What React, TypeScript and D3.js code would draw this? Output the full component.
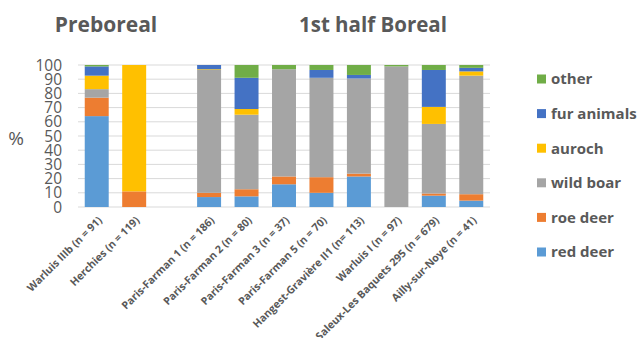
import React from "react";
import * as d3 from "d3";

const sites = [
  "Warluis IIIb (n = 91)",
  "Herchies (n = 119)",
  "",
  "Paris-Farman 1 (n = 186)",
  "Paris-Farman 2 (n = 80)",
  "Paris-Farman 3 (n = 37)",
  "Paris-Farman 5 (n = 70)",
  "Hangest-Gravière II1 (n= 113)",
  "Warluis I (n = 97)",
  "Saleux-Les Baquets 295 (n = 679)",
  "Ailly-sur-Noye (n = 41)",
];

const species = ["red deer", "roe deer", "wild boar", "auroch", "fur animals", "other"];
const colors = ["#5B9BD5", "#ED7D31", "#A5A5A5", "#FFC000", "#4472C4", "#70AD47"];

const redDeer = [64, 0, 0, 7, 7.5, 16, 10, 21.5, 0, 8, 4.5];
const roeDeer = [13, 11, 0, 3, 5, 5.5, 11, 2, 0, 1.5, 4.5];
const wildBoar = [6, 0, 0, 86.5, 52.5, 75.5, 70, 67, 99, 49, 83.5];
const auroch = [9.5, 89, 0, 0.5, 4, 0, 0, 0, 0, 12, 3];
const furAnimals = [6.5, 0, 0, 3, 22, 0, 5.5, 2.5, 0, 26, 2.5];
const other = [1, 0, 0, 0, 9, 3, 3.5, 7, 1, 3.5, 2];

const yTicks = [0, 10, 20, 30, 40, 50, 60, 70, 80, 90, 100];

const W = 638;
const H = 338;
const left = 78;
const right = 490;
const top = 65;
const bottom = 207;
const textColor = "#595959";
const font = "'Open Sans', 'Liberation Sans', sans-serif";

export default function App() {
  const rows = sites.map((s, i) => ({
    site: s || "_gap",
    "red deer": redDeer[i],
    "roe deer": roeDeer[i],
    "wild boar": wildBoar[i],
    auroch: auroch[i],
    "fur animals": furAnimals[i],
    other: other[i],
  }));
  const keys = sites.map((s) => s || "_gap");

  const x = d3.scaleBand().domain(keys).range([left, right]).paddingInner(0.36).paddingOuter(0.18);
  const y = d3.scaleLinear().domain([0, 100]).range([bottom, top]);
  const stacked = d3.stack<any>().keys(species)(rows);
  const color = d3.scaleOrdinal<string, string>().domain(species).range(colors);

  const legendY = d3.scalePoint<string>().domain([...species].reverse()).range([79, 252]);

  return (
    <svg width={W} height={H} style={{ position: "absolute", left: 0, top: 0, background: "#fff" }}>
      <rect x={0} y={0} width={W} height={H} fill="#fff" />
      {yTicks.map((t) => (
        <line key={t} x1={left} x2={right} y1={y(t)} y2={y(t)} stroke="#d9d9d9" strokeWidth={1} />
      ))}
      {stacked.map((layer) => (
        <g key={layer.key} fill={color(layer.key)}>
          {layer.map((d, i) =>
            d[1] - d[0] > 0 ? (
              <rect
                key={i}
                x={x(keys[i])}
                width={x.bandwidth()}
                y={y(d[1])}
                height={y(d[0]) - y(d[1])}
              />
            ) : null
          )}
        </g>
      ))}
      {yTicks.map((t) => (
        <text
          key={t}
          x={62}
          y={y(t)}
          dy="0.36em"
          textAnchor="end"
          fontFamily={font}
          fontSize={15.5}
          fill={textColor}
        >
          {t}
        </text>
      ))}
      <text x={16} y={138} dy="0.36em" textAnchor="middle" fontFamily={font} fontSize={19} fill={textColor}>
        %
      </text>
      <text x={106} y={32} textAnchor="middle" fontFamily={font} fontWeight="bold" fontSize={21} fill={textColor}>
        Preboreal
      </text>
      <text x={373} y={32} textAnchor="middle" fontFamily={font} fontWeight="bold" fontSize={20.5} fill={textColor}>
        1st half Boreal
      </text>
      {sites.map((s, i) =>
        s ? (
          <text
            key={i}
            transform={`translate(${(x(keys[i]) as number) + x.bandwidth() / 2 + 6},${bottom + 14}) rotate(-45)`}
            textAnchor="end"
            fontFamily={font}
            fontWeight="bold"
            fontSize={10.6}
            fill={textColor}
          >
            {s}
          </text>
        ) : null
      )}
      {species.map((k) => (
        <g key={k} transform={`translate(537,${legendY(k)})`}>
          <rect x={0} y={-4.5} width={9} height={9} fill={color(k)} />
          <text x={14} y={0} dy="0.36em" fontFamily={font} fontWeight="bold" fontSize={15} fill={textColor}>
            {k}
          </text>
        </g>
      ))}
    </svg>
  );
}
